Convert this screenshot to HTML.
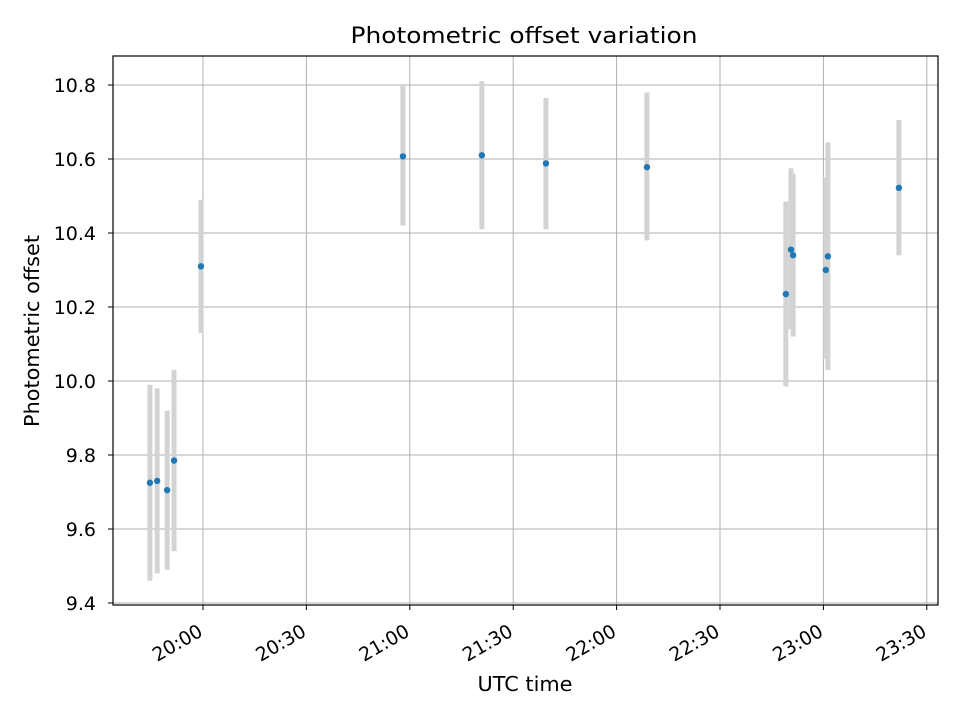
<!DOCTYPE html>
<html><head><meta charset="utf-8"><style>
body{margin:0;background:#fff;}
svg{display:block;font-family:"DejaVu Sans","Liberation Sans",sans-serif;}
</style></head><body>
<svg id="chart" width="960" height="720">
<rect width="960" height="720" fill="#fff"/>
<g id="grid"></g>
<g id="bars"></g>
<g id="pts"></g>
<rect x="113" y="56" width="825" height="549" fill="none" stroke="#000" stroke-width="1.2"/>
<g id="ticks"></g>
<text x="524" y="43" text-anchor="middle" font-size="22" textLength="347" lengthAdjust="spacingAndGlyphs">Photometric offset variation</text>
<text x="525" y="691" text-anchor="middle" font-size="20" textLength="95" lengthAdjust="spacingAndGlyphs">UTC time</text>
<text transform="translate(39,331) rotate(-90)" text-anchor="middle" font-size="20" textLength="192" lengthAdjust="spacingAndGlyphs">Photometric offset</text>
</svg>
<script>
// minutes after 19:00 UTC
const times=[44.6,46.7,49.6,51.6,59.4,118.0,140.9,159.5,188.8,229.1,230.6,231.2,240.7,241.3,261.9];
const values=[9.725,9.73,9.705,9.785,10.31,10.607,10.61,10.588,10.578,10.235,10.355,10.34,10.30,10.337,10.522];
const errLow=[9.46,9.48,9.49,9.54,10.13,10.42,10.41,10.41,10.38,9.985,10.14,10.12,10.06,10.03,10.34];
const errHigh=[9.99,9.98,9.92,10.03,10.49,10.80,10.81,10.765,10.78,10.485,10.575,10.56,10.55,10.645,10.705];
const xTicks=[60,90,120,150,180,210,240,270];
const xTickLabels=["20:00","20:30","21:00","21:30","22:00","22:30","23:00","23:30"];
const yTicks=[9.4,9.6,9.8,10.0,10.2,10.4,10.6,10.8];
const yTickLabels=["9.4","9.6","9.8","10.0","10.2","10.4","10.6","10.8"];

const L=113,R=938,T=56,B=605;
const xs=m=>203+(m-60)*(103.4/30);
const ys=v=>85+(10.8-v)*(74/0.2);
const NS="http://www.w3.org/2000/svg";
function mk(tag,attrs,parent,text){const e=document.createElementNS(NS,tag);for(const k in attrs)e.setAttribute(k,attrs[k]);if(text!==undefined)e.textContent=text;parent.appendChild(e);return e;}
const grid=document.getElementById('grid'),ticks=document.getElementById('ticks'),bars=document.getElementById('bars'),pts=document.getElementById('pts');
xTicks.forEach((t,i)=>{const x=xs(t);
 const g=mk('line',{x1:x,x2:x,y1:T,y2:B,stroke:'#b0b0b0','stroke-width':1},grid);
 
 mk('line',{x1:x,x2:x,y1:B,y2:B+5,stroke:'#000'},ticks);
 const tx=mk('text',{transform:`translate(${x+1},${B+30}) rotate(-30)`,'text-anchor':'end','font-size':19,textLength:54,lengthAdjust:'spacingAndGlyphs'},ticks,xTickLabels[i]);
 
});
yTicks.forEach((t,i)=>{const y=ys(t);
 const g=mk('line',{x1:L,x2:R,y1:y,y2:y,stroke:'#b0b0b0','stroke-width':1},grid);
 
 mk('line',{x1:L-5,x2:L,y1:y,y2:y,stroke:'#000'},ticks);
 const tx=mk('text',{x:L-17,y:y+7,'text-anchor':'end','font-size':19},ticks,yTickLabels[i]);
 
});
times.forEach((t,i)=>{const x=xs(t);
 const b=mk('line',{x1:x,x2:x,y1:ys(errLow[i]),y2:ys(errHigh[i]),stroke:'#d3d3d3','stroke-width':5},bars);
 
 const c=mk('circle',{cx:x,cy:ys(values[i]),r:3.2,fill:'#1f77b4'},pts);
 
});
</script>
</body></html>
